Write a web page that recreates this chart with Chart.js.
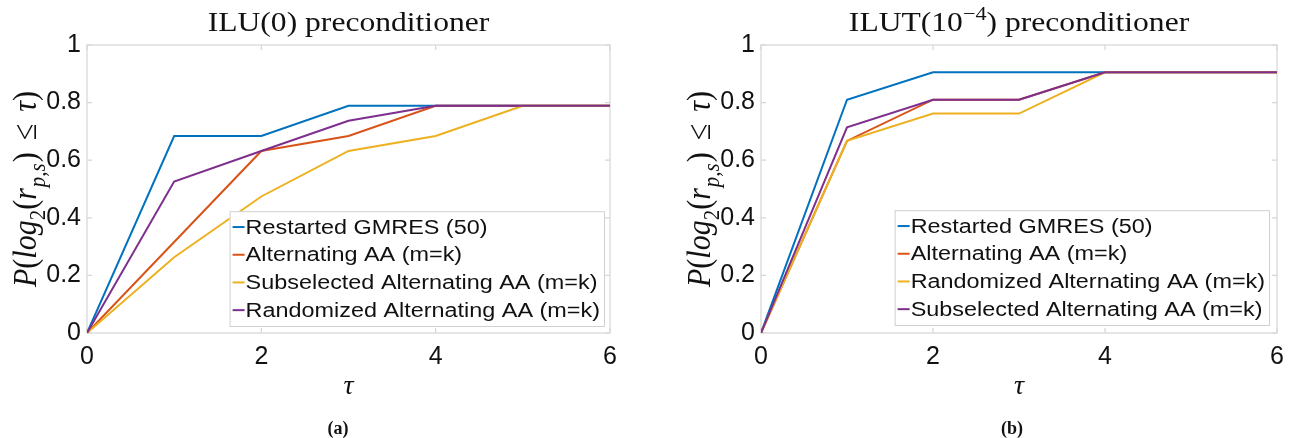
<!DOCTYPE html>
<html>
<head>
<meta charset="utf-8">
<script src="https://cdn.jsdelivr.net/npm/chart.js@4.4.1/dist/chart.umd.min.js"></script>
<style>
  html, body { margin: 0; padding: 0; background: #fff; }
  #wrap { position: relative; width: 1293px; height: 438px; overflow: hidden; }
  canvas { position: absolute; top: 0; }
  #chartA { left: 0; }
  #chartB { left: 674px; }
  .caption { position: absolute; top: 418px; font: bold 18px "Liberation Serif", serif; transform: translateX(-50%); color: #111; }
</style>
</head>
<body>
<div id="wrap">
  <canvas id="chartA" width="646" height="438"></canvas>
  <canvas id="chartB" width="619" height="438"></canvas>
  <div class="caption" style="left:338px">(a)</div>
  <div class="caption" style="left:1012px">(b)</div>
</div>
<script>
// tau values (x axis)
const tau = [0, 1, 2, 3, 4, 5, 6];

// (a) ILU(0)
const namesA = ['Restarted GMRES (50)', 'Alternating AA (m=k)', 'Subselected Alternating AA (m=k)', 'Randomized Alternating AA (m=k)'];
const gmresA = [0, 0.684, 0.684, 0.789, 0.789, 0.789, 0.789];
const altA   = [0, 0.316, 0.632, 0.684, 0.789, 0.789, 0.789];
const subA   = [0, 0.263, 0.474, 0.632, 0.684, 0.789, 0.789];
const randA  = [0, 0.526, 0.632, 0.737, 0.789, 0.789, 0.789];

// (b) ILUT(1e-4)
const namesB = ['Restarted GMRES (50)', 'Alternating AA (m=k)', 'Randomized Alternating AA (m=k)', 'Subselected Alternating AA (m=k)'];
const gmresB = [0, 0.810, 0.905, 0.905, 0.905, 0.905, 0.905];
const altB   = [0, 0.667, 0.810, 0.810, 0.905, 0.905, 0.905];
const randB  = [0, 0.667, 0.762, 0.762, 0.905, 0.905, 0.905];
const subB   = [0, 0.714, 0.810, 0.810, 0.905, 0.905, 0.905];

const lineColors = ['#0072BD', '#D95319', '#EDB120', '#7E2F8E'];

const sansFont = '"Liberation Sans", Arial, sans-serif';
const serifFont = '"Liberation Serif", "Times New Roman", serif';

const yLabelPieces = [
    { t: 'P', it: true }, { t: '(' }, { t: 'log', it: true }, { t: '2', shift: 'sub' },
    { t: '(' }, { t: 'r', it: true }, { t: 'p,s', it: true, shift: 'sub', gap: 1 }, { t: ')' },
    { t: '\u2264', gap: 12 }, { t: '\u03C4', it: true }, { t: ')' }
];

// per-canvas extras, kept outside chart options so Chart.js doesn't proxy them
const extras = {
    chartA: {
        title: [{ t: 'ILU(0) preconditioner' }],
        legendRight: 6, legendBottom: 7
    },
    chartB: {
        title: [{ t: 'ILUT(10' }, { t: '\u22124', shift: 'sup' }, { t: ') preconditioner' }],
        legendRight: 8, legendBottom: 8
    }
};

// draw a row of text pieces (italic / sub / sup) centred at 0,0 of the current transform
function drawPieces(ctx, pieces, size) {
    const fontOf = p => (p.it ? 'italic ' : '') + (p.shift ? Math.round(size * 0.7) : size) + 'px ' + serifFont;
    let total = 0;
    const widths = pieces.map(p => {
        ctx.font = fontOf(p);
        const w = ctx.measureText(p.t).width + (p.gap || 0) * 2;
        total += w;
        return w;
    });
    let x = -total / 2;
    ctx.textBaseline = 'alphabetic';
    ctx.textAlign = 'left';
    pieces.forEach((p, i) => {
        ctx.font = fontOf(p);
        let dy = size * 0.33;
        if (p.shift === 'sub') dy += size * 0.27;
        if (p.shift === 'sup') dy -= size * 0.42;
        ctx.fillText(p.t, x + (p.gap || 0), dy);
        x += widths[i];
    });
}

const richText = {
    id: 'richText',
    afterDraw(chart) {
        const { ctx, chartArea } = chart;
        const ex = extras[chart.canvas.id];
        ctx.save();
        ctx.fillStyle = '#111';
        // title
        ctx.save();
        ctx.translate((chartArea.left + chartArea.right) / 2, 22);
        ctx.scale(1.17, 1);
        drawPieces(ctx, ex.title, 27);
        ctx.restore();
        // y label
        ctx.save();
        ctx.translate(chartArea.left - 62, (chartArea.top + chartArea.bottom) / 2);
        ctx.rotate(-Math.PI / 2);
        ctx.scale(1, 1.12);
        drawPieces(ctx, yLabelPieces, 30);
        ctx.restore();
        ctx.restore();
    }
};

// MATLAB-like box with inward ticks
const axesBox = {
    id: 'axesBox',
    beforeDatasetsDraw(chart) {
        const { ctx, chartArea: { left, right, top, bottom }, scales: { x, y } } = chart;
        ctx.save();
        ctx.strokeStyle = '#d6d6d6';
        ctx.lineWidth = 1.2;
        ctx.strokeRect(left, top, right - left, bottom - top);
        ctx.beginPath();
        x.ticks.forEach(t => {
            const px = x.getPixelForValue(t.value);
            ctx.moveTo(px, bottom); ctx.lineTo(px, bottom - 5);
            ctx.moveTo(px, top); ctx.lineTo(px, top + 5);
        });
        y.ticks.forEach(t => {
            const py = y.getPixelForValue(t.value);
            ctx.moveTo(left, py); ctx.lineTo(left + 5, py);
            ctx.moveTo(right, py); ctx.lineTo(right - 5, py);
        });
        ctx.stroke();
        ctx.restore();
    }
};

// legend box inside the plot, bottom right
const boxLegend = {
    id: 'boxLegend',
    afterDatasetsDraw(chart) {
        const { ctx, chartArea } = chart;
        const ex = extras[chart.canvas.id];
        const sets = chart.data.datasets;
        const stretch = 1.17;
        const rowH = 27.7;
        ctx.save();
        ctx.font = '20px ' + sansFont;
        const textW = Math.max(...sets.map(d => ctx.measureText(d.label).width)) * stretch;
        const w = 16 + textW + 4;
        const h = rowH * sets.length + 4;
        const x0 = chartArea.right - ex.legendRight - w;
        const y0 = chartArea.bottom - ex.legendBottom - h;
        ctx.fillStyle = '#fff';
        ctx.fillRect(x0, y0, w, h);
        ctx.strokeStyle = '#d0d0d0';
        ctx.lineWidth = 1;
        ctx.strokeRect(x0 + 0.5, y0 + 0.5, w, h);
        sets.forEach((d, i) => {
            const cy = y0 + 2 + rowH * (i + 0.5);
            ctx.strokeStyle = d.borderColor;
            ctx.lineWidth = 2;
            ctx.beginPath();
            ctx.moveTo(x0 + 3, cy);
            ctx.lineTo(x0 + 15, cy);
            ctx.stroke();
            ctx.save();
            ctx.translate(x0 + 16, cy);
            ctx.scale(stretch, 1);
            ctx.fillStyle = '#111';
            ctx.textBaseline = 'middle';
            ctx.fillText(d.label, 0, 1);
            ctx.restore();
        });
        ctx.restore();
    }
};

function makeChart(id, names, series, padRight) {
    const n = series.length;
    return new Chart(document.getElementById(id), {
        type: 'line',
        data: {
            datasets: series.map((vals, i) => ({
                label: names[i],
                data: tau.map((t, k) => ({ x: t, y: vals[k] })),
                borderColor: lineColors[i],
                backgroundColor: lineColors[i],
                borderWidth: 2,
                pointRadius: 0,
                tension: 0,
                fill: false,
                order: n - 1 - i
            }))
        },
        options: {
            responsive: false,
            animation: false,
            layout: { padding: { top: 45, right: padRight, left: 0, bottom: 0 } },
            plugins: {
                legend: { display: false },
                tooltip: { enabled: false },
                title: { display: false }
            },
            scales: {
                x: {
                    type: 'linear',
                    min: 0,
                    max: 6,
                    ticks: { stepSize: 2, padding: 9, color: '#111', font: { family: sansFont, size: 25 } },
                    grid: { display: false, drawTicks: false },
                    border: { display: false },
                    title: {
                        display: true,
                        text: '\u03C4',
                        color: '#111',
                        font: { family: serifFont, style: 'italic', size: 28 },
                        padding: { top: 0, bottom: 35 }
                    },
                    afterFit: s => { s.height = 105; }
                },
                y: {
                    min: 0,
                    max: 1,
                    ticks: {
                        stepSize: 0.2,
                        padding: 6,
                        color: '#111',
                        font: { family: sansFont, size: 25 },
                        callback: v => String(Number(v.toFixed(2)))
                    },
                    grid: { display: false, drawTicks: false },
                    border: { display: false },
                    afterFit: s => { s.width = 87; }
                }
            }
        },
        plugins: [axesBox, boxLegend, richText]
    });
}

makeChart('chartA', namesA, [gmresA, altA, subA, randA], 36);
makeChart('chartB', namesB, [gmresB, altB, randB, subB], 9);
</script>
</body>
</html>
